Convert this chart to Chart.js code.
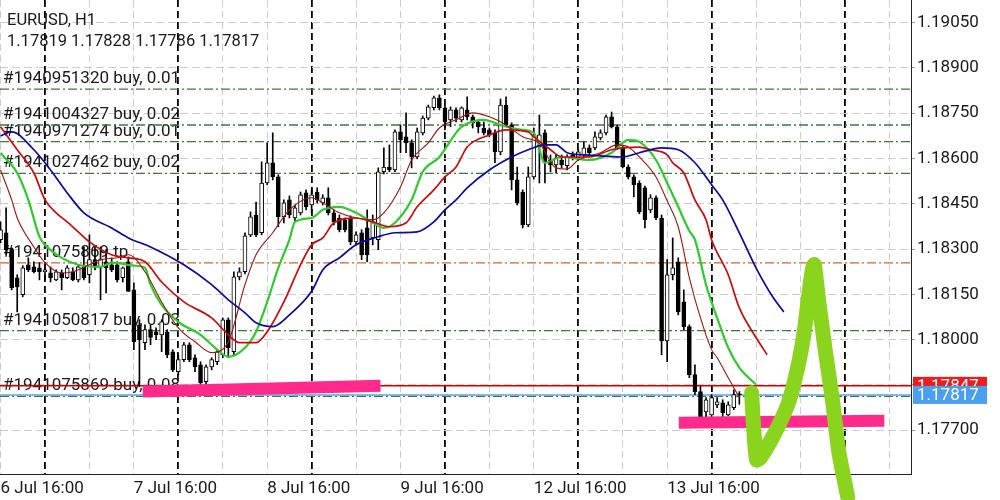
<!DOCTYPE html>
<html>
<head>
<meta charset="utf-8">
<script src="https://cdn.jsdelivr.net/npm/chart.js@4.4.1/dist/chart.umd.min.js"></script>
<style>
  html, body { margin: 0; padding: 0; background: #fff; }
</style>
</head>
<body>
<canvas id="chart" width="1000" height="500"></canvas>
<script>
// EURUSD H1 candles, index 0 = 6 Jul 16:00 (weekend hours skipped)
const opens = [
  1.18331, 1.18354, 1.18298, 1.18205, 1.18149, 1.18248, 1.18241, 1.18238, 1.18225, 1.18221,
  1.18198, 1.18221, 1.18205, 1.18225, 1.18198, 1.18241, 1.18215, 1.18265, 1.18241, 1.18258,
  1.18248, 1.18248, 1.18205, 1.18258, 1.18165, 1.18049, 1.17990, 1.18033, 1.18026, 1.18016,
  1.18026, 1.17960, 1.17894, 1.17934, 1.17983, 1.17940, 1.17917, 1.17861, 1.17910, 1.17927,
  1.17950, 1.18066, 1.17960, 1.18208, 1.18225, 1.18347, 1.18413, 1.18354, 1.18519, 1.18586,
  1.18539, 1.18407, 1.18463, 1.18403, 1.18420, 1.18486, 1.18446, 1.18489, 1.18453, 1.18470,
  1.18420, 1.18403, 1.18397, 1.18403, 1.18324, 1.18354, 1.18370, 1.18337, 1.18331, 1.18556,
  1.18572, 1.18562, 1.18688, 1.18672, 1.18652, 1.18605, 1.18685, 1.18734, 1.18768, 1.18801,
  1.18768, 1.18728, 1.18761, 1.18728, 1.18761, 1.18738, 1.18721, 1.18701, 1.18695, 1.18685,
  1.18622, 1.18777, 1.18711, 1.18529, 1.18489, 1.18380, 1.18539, 1.18638, 1.18685, 1.18595,
  1.18579, 1.18595, 1.18576, 1.18612, 1.18602, 1.18612, 1.18635, 1.18635, 1.18668, 1.18685,
  1.18738, 1.18705, 1.18635, 1.18572, 1.18539, 1.18519, 1.18503, 1.18430, 1.18470, 1.18403,
  1.17996, 1.18215, 1.18258, 1.18125, 1.18043, 1.17884, 1.17828, 1.17761, 1.17751, 1.17784,
  1.17791, 1.17751, 1.17775, 1.17819
];
const highs = [
  1.18390, 1.18437, 1.18304, 1.18215, 1.18245, 1.18271, 1.18258, 1.18255, 1.18255, 1.18241,
  1.18231, 1.18231, 1.18245, 1.18238, 1.18248, 1.18307, 1.18347, 1.18307, 1.18307, 1.18298,
  1.18271, 1.18258, 1.18241, 1.18274, 1.18188, 1.18066, 1.18049, 1.18049, 1.18039, 1.18066,
  1.18033, 1.17967, 1.17950, 1.17990, 1.17990, 1.17950, 1.17927, 1.17917, 1.17940, 1.17967,
  1.18072, 1.18072, 1.18225, 1.18238, 1.18354, 1.18423, 1.18456, 1.18589, 1.18652, 1.18685,
  1.18546, 1.18463, 1.18476, 1.18446, 1.18489, 1.18496, 1.18496, 1.18503, 1.18480, 1.18503,
  1.18430, 1.18413, 1.18403, 1.18410, 1.18357, 1.18364, 1.18430, 1.18413, 1.18569, 1.18635,
  1.18645, 1.18695, 1.18711, 1.18751, 1.18662, 1.18701, 1.18741, 1.18777, 1.18807, 1.18811,
  1.18774, 1.18771, 1.18768, 1.18771, 1.18804, 1.18744, 1.18728, 1.18721, 1.18701, 1.18695,
  1.18797, 1.18804, 1.18718, 1.18572, 1.18496, 1.18572, 1.18701, 1.18744, 1.18695, 1.18612,
  1.18612, 1.18612, 1.18612, 1.18622, 1.18629, 1.18655, 1.18645, 1.18688, 1.18695, 1.18744,
  1.18754, 1.18711, 1.18642, 1.18579, 1.18546, 1.18526, 1.18509, 1.18480, 1.18476, 1.18413,
  1.18265, 1.18337, 1.18271, 1.18165, 1.18049, 1.17917, 1.17845, 1.17808, 1.17818, 1.17808,
  1.17801, 1.17794, 1.17834, 1.17828
];
const lows = [
  1.18321, 1.18281, 1.18165, 1.18092, 1.18142, 1.18225, 1.18221, 1.18198, 1.18198, 1.18191,
  1.18195, 1.18165, 1.18202, 1.18195, 1.18191, 1.18198, 1.18188, 1.18231, 1.18132, 1.18155,
  1.18225, 1.18191, 1.18191, 1.18160, 1.17967, 1.17845, 1.17967, 1.17983, 1.18000, 1.17960,
  1.17940, 1.17894, 1.17884, 1.17927, 1.17927, 1.17894, 1.17851, 1.17854, 1.17900, 1.17917,
  1.17940, 1.17940, 1.17947, 1.18198, 1.18218, 1.18341, 1.18341, 1.18347, 1.18513, 1.18529,
  1.18374, 1.18387, 1.18403, 1.18390, 1.18413, 1.18430, 1.18420, 1.18453, 1.18446, 1.18413,
  1.18380, 1.18357, 1.18357, 1.18314, 1.18314, 1.18265, 1.18258, 1.18314, 1.18298, 1.18549,
  1.18556, 1.18556, 1.18619, 1.18619, 1.18569, 1.18599, 1.18678, 1.18728, 1.18761, 1.18761,
  1.18695, 1.18705, 1.18721, 1.18721, 1.18728, 1.18701, 1.18685, 1.18678, 1.18672, 1.18586,
  1.18612, 1.18705, 1.18496, 1.18446, 1.18370, 1.18374, 1.18532, 1.18519, 1.18519, 1.18556,
  1.18552, 1.18569, 1.18562, 1.18595, 1.18595, 1.18602, 1.18612, 1.18629, 1.18662, 1.18678,
  1.18701, 1.18629, 1.18569, 1.18532, 1.18473, 1.18417, 1.18370, 1.18420, 1.18397, 1.17950,
  1.17927, 1.18198, 1.18082, 1.18033, 1.17874, 1.17818, 1.17741, 1.17745, 1.17745, 1.17775,
  1.17745, 1.17748, 1.17768, 1.17786
];
const closes = [
  1.18364, 1.18298, 1.18172, 1.18175, 1.18238, 1.18231, 1.18225, 1.18225, 1.18231, 1.18205,
  1.18225, 1.18205, 1.18238, 1.18198, 1.18241, 1.18205, 1.18265, 1.18241, 1.18265, 1.18238,
  1.18231, 1.18198, 1.18238, 1.18160, 1.17993, 1.18000, 1.18033, 1.18007, 1.18016, 1.18059,
  1.17950, 1.17900, 1.17934, 1.17983, 1.17934, 1.17910, 1.17857, 1.17910, 1.17934, 1.17960,
  1.18066, 1.17973, 1.18208, 1.18225, 1.18344, 1.18407, 1.18347, 1.18519, 1.18586, 1.18539,
  1.18407, 1.18453, 1.18413, 1.18437, 1.18480, 1.18440, 1.18480, 1.18463, 1.18470, 1.18420,
  1.18390, 1.18364, 1.18364, 1.18324, 1.18347, 1.18281, 1.18281, 1.18390, 1.18556, 1.18572,
  1.18562, 1.18688, 1.18662, 1.18652, 1.18605, 1.18688, 1.18734, 1.18771, 1.18801, 1.18768,
  1.18721, 1.18761, 1.18734, 1.18768, 1.18738, 1.18718, 1.18705, 1.18685, 1.18678, 1.18622,
  1.18777, 1.18711, 1.18529, 1.18453, 1.18380, 1.18539, 1.18678, 1.18678, 1.18586, 1.18579,
  1.18602, 1.18579, 1.18605, 1.18602, 1.18622, 1.18635, 1.18619, 1.18672, 1.18685, 1.18738,
  1.18705, 1.18635, 1.18572, 1.18539, 1.18513, 1.18423, 1.18397, 1.18470, 1.18403, 1.17996,
  1.18215, 1.18238, 1.18092, 1.18043, 1.17884, 1.17828, 1.17745, 1.17801, 1.17808, 1.17794,
  1.17758, 1.17784, 1.17818, 1.17817
];

// Alligator + fast MA as [candle index, price]
const jawLine = [
  [0,1.18675],[2,1.18688],[6,1.18629],[9,1.18562],[12,1.18486],[15,1.18420],[20,1.18370],
  [23,1.18337],[27,1.18307],[33,1.18248],[38,1.18182],[41,1.18132],[44,1.18089],[46,1.18056],
  [49,1.18043],[52,1.18082],[56,1.18160],[58,1.18231],[61,1.18271],[64,1.18314],[68,1.18341],
  [71,1.18354],[75,1.18357],[78,1.18390],[80,1.18430],[82,1.18463],[84,1.18503],[88,1.18562],
  [92,1.18605],[95,1.18629],[98,1.18645],[100,1.18645],[102,1.18619],[105,1.18612],[108,1.18609],
  [112,1.18605],[115,1.18619],[119,1.18635],[122,1.18629],[125,1.18586],[128,1.18513],
  [130,1.18463],[133,1.18354],[136,1.18238],[139,1.18142],[141,1.18092]
];
const teethLine = [
  [0,1.18705],[3,1.18629],[6,1.18552],[8,1.18463],[10,1.18420],[12,1.18390],[14,1.18357],
  [16,1.18324],[20,1.18281],[23,1.18271],[26,1.18258],[29,1.18191],[33,1.18125],[38,1.18072],
  [41,1.18016],[43,1.17990],[46,1.17990],[48,1.18026],[51,1.18125],[54,1.18248],[56,1.18314],
  [58,1.18337],[60,1.18387],[64,1.18403],[67,1.18390],[70,1.18374],[73,1.18387],[75,1.18440],
  [78,1.18496],[80,1.18539],[82,1.18572],[84,1.18638],[88,1.18678],[91,1.18695],[95,1.18688],
  [96,1.18672],[99,1.18629],[101,1.18605],[106,1.18605],[110,1.18629],[112,1.18635],
  [115,1.18638],[117,1.18629],[120,1.18612],[121,1.18586],[123,1.18552],[125,1.18463],
  [127,1.18397],[128,1.18331],[131,1.18215],[133,1.18105],[136,1.18007],[138,1.17950]
];
const lipsLine = [
  [0,1.18618],[3,1.18552],[5,1.18463],[7,1.18341],[8,1.18314],[11,1.18271],[14,1.18248],
  [18,1.18241],[20,1.18255],[24,1.18245],[26,1.18238],[27,1.18182],[29,1.18115],[32,1.18059],
  [36,1.18016],[39,1.17967],[41,1.17943],[44,1.17973],[46,1.18026],[48,1.18125],[50,1.18238],
  [52,1.18331],[53,1.18390],[56,1.18403],[58,1.18430],[61,1.18440],[64,1.18420],[67,1.18387],
  [69,1.18370],[71,1.18387],[74,1.18463],[76,1.18556],[79,1.18605],[82,1.18685],[83,1.18705],
  [87,1.18728],[90,1.18711],[92,1.18701],[94,1.18695],[96,1.18685],[98,1.18586],[101,1.18605],
  [106,1.18595],[110,1.18619],[113,1.18662],[115,1.18655],[118,1.18595],[120,1.18519],
  [122,1.18440],[124,1.18360],[125,1.18331],[127,1.18182],[129,1.18072],[131,1.17973],
  [133,1.17907],[136,1.17851]
];
const fastLine = [
  [0,1.18562],[2,1.18463],[3,1.18403],[6,1.18307],[8,1.18255],[11,1.18221],[13,1.18225],
  [16,1.18248],[18,1.18265],[21,1.18271],[23,1.18281],[26,1.18225],[29,1.18125],[32,1.18039],
  [35,1.17993],[38,1.17957],[41,1.17993],[44,1.18182],[46,1.18281],[49,1.18354],[52,1.18430],
  [56,1.18470],[58,1.18453],[61,1.18420],[64,1.18403],[67,1.18397],[69,1.18420],[72,1.18506],
  [74,1.18595],[77,1.18652],[79,1.18701],[82,1.18728],[85,1.18751],[88,1.18738],[91,1.18711],
  [94,1.18672],[97,1.18650],[100,1.18569],[102,1.18565],[104,1.18595],[108,1.18619],
  [111,1.18645],[113,1.18638],[115,1.18605],[118,1.18539],[120,1.18460],[122,1.18374],
  [124,1.18205],[126,1.18072],[128,1.17967],[129,1.17940],[131,1.17874],[133,1.17808]
];

// open orders drawn as horizontal lines
const orderNames = [
  '#1940951320 buy, 0.01', '#1941004327 buy, 0.02', '#1940971274 buy, 0.01',
  '#1941027462 buy, 0.02', '#1941075869 tp', '#1941050817 buy, 0.03', '#1941075869 buy, 0.08'
];
const orderPrices = [1.18830, 1.18711, 1.18656, 1.18551, 1.18254, 1.18030, 1.17812];
const orderIsTp = [false, false, false, false, true, false, false];
const askPrice = 1.17847;
const bidPrice = 1.17817;

// hand drawn marks on top of the chart
const pinkStroke1 = [[25.6,1.17828],[68.4,1.17847]];
const pinkStroke2 = [[122.1,1.17725],[159.1,1.17731]];
const greenStroke = [
  [135.2,1.17824],[135.6,1.17702],[136.1,1.17602],[136.8,1.17609],[139.5,1.17695],
  [141.9,1.17794],[143.5,1.17907],[144.6,1.18016],[145.5,1.18149],[146.2,1.18238],
  [146.5,1.18248],[147.3,1.18125],[148.5,1.17960],[149.8,1.17794],[150.9,1.17629],
  [151.8,1.17543],[152.5,1.17480]
];

// axes
const timeTicks = [0, 24, 48, 72, 96, 120];
const timeLabels = ['6 Jul 16:00', '7 Jul 16:00', '8 Jul 16:00', '9 Jul 16:00', '12 Jul 16:00', '13 Jul 16:00'];
const daySeparators = [8, 32, 56, 80, 104, 128, 152];
const priceTicks = [1.17700, 1.17850, 1.18000, 1.18150, 1.18300, 1.18450, 1.18600, 1.18750, 1.18900, 1.19050];
const xMin = -0.1, xMax = 163.9;
const yMin = 1.17555, yMax = 1.19125;

const gridIdx = [];
for (let i = 0; i <= 160; i += 8) gridIdx.push(i);

const toXY = pts => pts.map(p => ({x: p[0], y: p[1]}));
const flat = p => [{x: xMin, y: p}, {x: xMax, y: p}];

const wicks = lows.map((l, i) => ({x: i, y: [l, highs[i]]}));
const bodies = opens.map((o, i) => ({x: i, y: [o, closes[i]]}));
const bodyFill = opens.map((o, i) => closes[i] >= o ? '#ffffff' : '#000000');

const lineBase = {type: 'line', pointRadius: 0, fill: false, cubicInterpolationMode: 'monotone'};

const datasets = [];
orderPrices.forEach((p, k) => {
  datasets.push(Object.assign({}, lineBase, {
    data: flat(p), borderColor: orderIsTp[k] ? '#d2642a' : '#3b7a3b',
    borderWidth: 1.3, borderDash: [9, 3, 2, 3], order: 6
  }));
});
datasets.push(Object.assign({}, lineBase, {data: flat(askPrice), borderColor: '#d00000', borderWidth: 1.5, order: 5}));
datasets.push(Object.assign({}, lineBase, {data: flat(bidPrice), borderColor: '#5aa5e6', borderWidth: 1.5, order: 5}));
datasets.push({type: 'bar', data: wicks, backgroundColor: '#000000', barThickness: 1, grouped: false, order: 4});
datasets.push({type: 'bar', data: bodies, backgroundColor: bodyFill, borderColor: '#000000', borderWidth: 1,
  borderSkipped: false, barThickness: 4, grouped: false, minBarLength: 1, order: 3});
datasets.push(Object.assign({}, lineBase, {data: toXY(jawLine), borderColor: '#0a0a9e', borderWidth: 1.7, order: 2}));
datasets.push(Object.assign({}, lineBase, {data: toXY(teethLine), borderColor: '#cc0a0a', borderWidth: 1.7, order: 2}));
datasets.push(Object.assign({}, lineBase, {data: toXY(fastLine), borderColor: '#9a1a10', borderWidth: 1.1, order: 2}));
datasets.push(Object.assign({}, lineBase, {data: toXY(lipsLine), borderColor: '#2ccc2c', borderWidth: 2.2, order: 2}));
datasets.push(Object.assign({}, lineBase, {data: toXY(pinkStroke1), borderColor: '#ff2a8c', borderWidth: 12, borderCapStyle: 'butt', order: 1}));
datasets.push(Object.assign({}, lineBase, {data: toXY(pinkStroke2), borderColor: '#ff2a8c', borderWidth: 12, borderCapStyle: 'butt', order: 1}));
datasets.push(Object.assign({}, lineBase, {data: toXY(greenStroke), cubicInterpolationMode: 'default', tension: 0.25,
  borderColor: '#8bd41e', borderWidth: 15, borderCapStyle: 'round', borderJoinStyle: 'round', clip: false, order: 0}));

const textFont = 'Roboto, "Noto Sans", sans-serif';

const overlay = {
  id: 'overlay',
  beforeDatasetsDraw(chart) {
    const {ctx, scales: {y}} = chart;
    ctx.save();
    ctx.fillStyle = '#1a1a1a';
    ctx.textAlign = 'left';
    ctx.textBaseline = 'alphabetic';
    ctx.font = '17px ' + textFont;
    orderPrices.forEach((p, k) => {
      ctx.fillText(orderNames[k], 3, y.getPixelForValue(p) - 6);
    });
    const last = opens.length - 1;
    ctx.font = '16.5px ' + textFont;
    ctx.fillText('EURUSD, H1', 7, 25);
    ctx.fillText([opens[last], highs[last], lows[last], closes[last]].map(v => v.toFixed(5)).join(' '), 7, 46);
    ctx.restore();
  },
  afterDraw(chart) {
    const {ctx, scales: {y}, chartArea} = chart;
    ctx.save();
    ctx.font = '17px ' + textFont;
    ctx.textBaseline = 'middle';
    [[askPrice, '#ee1c1c'], [bidPrice, '#4a9ff0']].forEach(([p, c]) => {
      const py = y.getPixelForValue(p);
      ctx.fillStyle = c;
      ctx.fillRect(chartArea.right + 2, py - 9, 74, 18);
      ctx.fillStyle = '#ffffff';
      ctx.fillText(p.toFixed(5), chartArea.right + 6, py + 1);
    });
    ctx.restore();
  }
};

new Chart(document.getElementById('chart'), {
  type: 'bar',
  data: {datasets: datasets},
  plugins: [overlay],
  options: {
    responsive: false,
    animation: false,
    events: [],
    layout: {padding: 0},
    plugins: {legend: {display: false}, tooltip: {enabled: false}},
    scales: {
      x: {
        type: 'linear', min: xMin, max: xMax, offset: false,
        afterBuildTicks: s => { s.ticks = gridIdx.map(v => ({value: v})); },
        afterFit: s => { s.height = 26; s.paddingLeft = 0; s.paddingRight = 0; },
        grid: {
          offset: false, drawTicks: false,
          color: c => daySeparators.includes(c.tick.value) ? '#000000' : '#cdcdcd',
          lineWidth: c => daySeparators.includes(c.tick.value) ? 1.8 : 1
        },
        border: {display: true, color: '#222222', width: 1, dash: [7, 4]},
        ticks: {
          autoSkip: false, maxRotation: 0, align: 'start', padding: 5,
          color: '#1a1a1a', font: {family: textFont, size: 17},
          callback: v => { const k = timeTicks.indexOf(v); return k >= 0 ? timeLabels[k] : ''; }
        }
      },
      y: {
        type: 'linear', position: 'right', min: yMin, max: yMax, beginAtZero: false,
        afterBuildTicks: s => { s.ticks = priceTicks.map(v => ({value: v})); },
        afterFit: s => { s.width = 89; s.paddingTop = 0; s.paddingBottom = 0; },
        grid: {color: '#cdcdcd', lineWidth: 1, drawTicks: true, tickLength: 4, tickColor: '#999999'},
        border: {display: true, color: '#222222', width: 1, dash: [8, 4]},
        ticks: {
          autoSkip: false, padding: 2, color: '#1a1a1a', font: {family: textFont, size: 17},
          callback: v => v.toFixed(5)
        }
      }
    }
  }
});
</script>
</body>
</html>
